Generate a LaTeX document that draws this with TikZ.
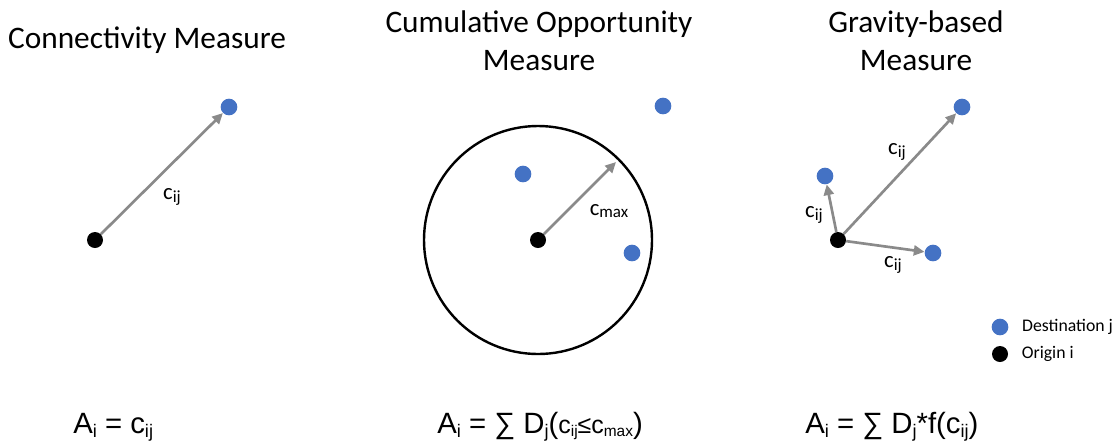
\documentclass[tikz,border=0pt]{standalone}
\usepackage{fontspec}
\setmainfont{Carlito}
\newfontfamily\arialfont{Liberation Sans}
\usetikzlibrary{positioning, arrows.meta}
\definecolor{destblue}{HTML}{4472C4}
\definecolor{linkgray}{HTML}{8A8A8A}
\newcommand{\lowidx}[1]{\raisebox{-0.3ex}{\scalebox{0.62}{#1}}}
\newcommand{\lblidx}[1]{\raisebox{-0.25ex}{\scalebox{0.75}{#1}}}
\tikzset{>={Triangle[length=8pt, width=7.5pt]}}
\tikzset{
  dest/.style={circle, fill=destblue, inner sep=0pt, minimum size=12.5pt},
  orig/.style={circle, fill=black, inner sep=0pt, minimum size=12pt},
  link/.style={->, draw=linkgray, fill=linkgray, line width=2pt},
  ring/.style={draw=black, line width=1.8pt},
  ttl/.style={font=\fontsize{23.5}{28.5}\selectfont, align=center},
  lbl/.style={font=\fontsize{17}{20}\selectfont, inner sep=0pt},
  frm/.style={font=\arialfont\fontsize{22}{26}\selectfont, anchor=base west, inner sep=0pt},
  key/.style={font=\fontsize{13.3}{15}\selectfont, inner sep=0pt}
}

\begin{document}
\begin{tikzpicture}[x=0.75pt, y=-0.75pt]
  \useasboundingbox (0,0) rectangle (1119,444);
  % titles
  \node[ttl] (t1) at (147,40) {Connectivity Measure};
  \node[ttl] (t2) at (539,41) {Cumulative Opportunity\\Measure};
  \node[ttl] (t3) at (916,41) {Gravity-based\\Measure};

  % connectivity
  \node[orig] (o1) at (95,240) {};
  \node[dest] (d1) at (229,107) {};
  \draw[link] (o1) -- (d1);
  \node[lbl] (c1) at (172,197) {c\lblidx{ij}};

  % cumulative opportunity
  \node[orig] (o2) at (538,240) {};
  \draw[ring] (o2) circle[radius=114];
  \node[dest] (d21) at (523,174) {};
  \node[dest] (d22) at (663,106) {};
  \node[dest] (d23) at (632,253) {};
  \coordinate (rim) at (616,162);
  \draw[link] (o2) -- (rim);
  \node[lbl] (c2) at (609,211) {c\lblidx{max}};

  % gravity
  \node[orig] (o3) at (838,240) {};
  \node[dest] (d31) at (962,107) {};
  \node[dest] (d32) at (825,176) {};
  \node[dest] (d33) at (933,253) {};
  \draw[link] (o3) -- (d31);
  \draw[link] (o3) -- (d32);
  \draw[link] (o3) -- (d33);
  \node[lbl] (c31) at (897,152) {c\lblidx{ij}};
  \node[lbl] (c32) at (814,215) {c\lblidx{ij}};
  \node[lbl] (c33) at (893,265) {c\lblidx{ij}};

  % legend
  \node[dest] (k1) at (1000,327) {};
  \node[orig] (k2) at (1000,354) {};
  \node[key, right=10pt of k1] {Destination j};
  \node[key, right=10pt of k2] {Origin i};

  % formulas
  \node[frm] (f1) at (73,433) {A\lowidx{i} = c\lowidx{ij}};
  \node[frm] (f2) at (437,433) {A\lowidx{i} = ∑ D\lowidx{j}({\scalebox{0.85}{c\lowidx{ij}≤c\lowidx{max}}})};
  \node[frm] (f3) at (805,433) {A\lowidx{i} = ∑ D\lowidx{j}*f(c\lowidx{ij})};
\end{tikzpicture}
\end{document}
